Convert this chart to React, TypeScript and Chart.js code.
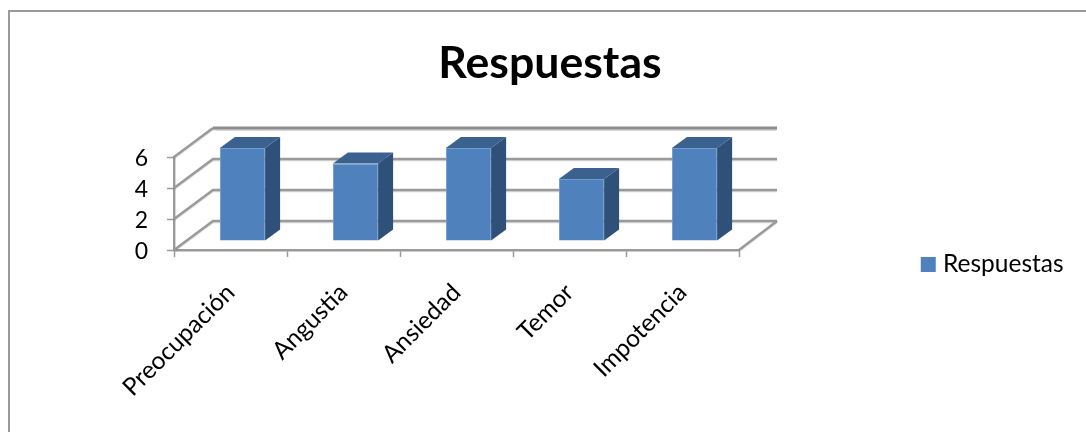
import React, { useEffect, useRef } from "react";
import { Chart, registerables } from "chart.js";

Chart.register(...registerables);

const categories = ["Preocupación", "Angustia", "Ansiedad", "Temor", "Impotencia"];
const seriesName = "Respuestas";
const values = [6, 5, 6, 4, 6];
const yTicks = [0, 2, 4, 6];

const FONT = "Lato, 'Noto Sans', sans-serif";
const GREY = "#9a9a9a";
const DEPTH_X = 39;
const DEPTH_Y = -29;
const BAR_SHIFT_X = 12;
const BAR_SHIFT_Y = -9;
const SIDE_X = 15;
const SIDE_Y = -11;

const threeD = {
  id: "threeD",
  afterLayout(chart: any) {
    const legend = chart.legend;
    legend.left = 915.75;
    legend.right = 1086;
    legend.top = 252;
    legend.bottom = 277;
    const title = chart.titleBlock;
    title.left = 0;
    title.right = 1100;
  },
  beforeDatasetsDraw(chart: any) {
    const { ctx, scales } = chart;
    const x = scales.x;
    const y = scales.y;
    const left = x.left;
    const right = x.right;
    const floor = y.getPixelForValue(0);
    const top = y.getPixelForValue(6);
    ctx.save();
    ctx.shadowColor = "rgba(0,0,0,0.15)";
    ctx.shadowBlur = 1;
    ctx.shadowOffsetY = 1;
    yTicks.forEach((tick) => {
      const py = y.getPixelForValue(tick);
      ctx.lineWidth = 2.4;
      ctx.strokeStyle = GREY;
      ctx.beginPath();
      ctx.moveTo(left, py);
      ctx.lineTo(left + DEPTH_X, py + DEPTH_Y);
      if (py !== top) ctx.lineTo(right + DEPTH_X - 1, py + DEPTH_Y);
      ctx.stroke();
      if (py === top) {
        ctx.lineWidth = 3;
        ctx.strokeStyle = "#8e8e8e";
        ctx.beginPath();
        ctx.moveTo(left + DEPTH_X, py + DEPTH_Y);
        ctx.lineTo(right + DEPTH_X - 1, py + DEPTH_Y);
        ctx.stroke();
      }
    });
    ctx.lineWidth = 2.4;
    ctx.strokeStyle = GREY;
    ctx.beginPath();
    ctx.moveTo(right, floor);
    ctx.lineTo(right + DEPTH_X - 1, floor + DEPTH_Y);
    ctx.stroke();
    ctx.restore();
  },
  beforeDatasetDraw(chart: any) {
    const { ctx } = chart;
    ctx.save();
    ctx.translate(BAR_SHIFT_X, BAR_SHIFT_Y);
    chart.getDatasetMeta(0).data.forEach((bar: any) => {
      const l = bar.x - bar.width / 2;
      const r = bar.x + bar.width / 2;
      ctx.fillStyle = "#2F5078";
      ctx.beginPath();
      ctx.moveTo(r, bar.y);
      ctx.lineTo(r + SIDE_X, bar.y + SIDE_Y);
      ctx.lineTo(r + SIDE_X, bar.base + SIDE_Y);
      ctx.lineTo(r, bar.base);
      ctx.closePath();
      ctx.fill();
      ctx.fillStyle = "#3B618F";
      ctx.beginPath();
      ctx.moveTo(l, bar.y);
      ctx.lineTo(l + SIDE_X, bar.y + SIDE_Y);
      ctx.lineTo(r + SIDE_X, bar.y + SIDE_Y);
      ctx.lineTo(r, bar.y);
      ctx.closePath();
      ctx.fill();
    });
  },
  afterDatasetDraw(chart: any) {
    chart.ctx.restore();
  },
};

export default function App() {
  const ref = useRef<HTMLCanvasElement>(null);
  useEffect(() => {
    const chart = new Chart(ref.current!, {
      type: "bar",
      data: {
        labels: categories,
        datasets: [
          {
            label: seriesName,
            data: values,
            backgroundColor: "#4F81BD",
            borderColor: "#6F9BD0",
            borderWidth: 1,
            categoryPercentage: 1,
            barPercentage: 0.4,
          },
        ],
      },
      options: {
        animation: false,
        responsive: false,
        layout: { padding: { left: 0, top: 0, right: 347, bottom: 0 } },
        plugins: {
          title: {
            display: true,
            text: seriesName,
            color: "#000",
            font: { family: FONT, size: 44.6, weight: "bold", lineHeight: 1.2 },
            padding: { top: 37, bottom: 66.5 },
          },
          legend: {
            display: true,
            position: "chartArea",
            labels: {
              color: "#000",
              font: { family: FONT, size: 24.5 },
              usePointStyle: true,
              pointStyle: "rect",
              boxWidth: 5,
              boxHeight: 15,
              padding: 10,
              generateLabels: (c: any) =>
                Chart.defaults.plugins.legend.labels
                  .generateLabels(c)
                  .map((item: any) => ({ ...item, lineWidth: 0 })),
            },
          },
          tooltip: { enabled: false },
        },
        scales: {
          x: {
            offset: true,
            afterFit: (s: any) => {
              s.height = 182;
            },
            border: { color: GREY, width: 2.4 },
            grid: {
              offset: true,
              drawOnChartArea: false,
              drawTicks: true,
              tickLength: 7,
              tickColor: GREY,
              tickWidth: 1.5,
            },
            ticks: {
              color: "#000",
              font: { family: FONT, size: 24.5 },
              maxRotation: 45,
              minRotation: 45,
              padding: 21,
              autoSkip: false,
            },
          },
          y: {
            min: 0,
            max: 6,
            afterFit: (s: any) => {
              s.width = 174;
            },
            border: { color: GREY, width: 2.4 },
            grid: {
              drawOnChartArea: false,
              tickLength: 7,
              tickColor: GREY,
              tickWidth: 1.5,
            },
            afterBuildTicks: (s: any) => {
              s.ticks = yTicks.map((value) => ({ value }));
            },
            ticks: {
              color: "#000",
              font: { family: FONT, size: 23 },
              padding: 19,
              labelOffset: 2,
            },
          },
        },
      },
      plugins: [threeD],
    } as any);
    return () => chart.destroy();
  }, []);
  return (
    <div style={{ position: "fixed", left: 0, top: 0, width: 1086, height: 432, background: "#fff", overflow: "hidden" }}>
      <canvas ref={ref} width={1086} height={432} style={{ position: "absolute", left: 0, top: 0, display: "block" }} />
      <div
        style={{
          position: "absolute",
          left: 8,
          top: 10,
          width: 1100,
          height: 440,
          borderLeft: "2px solid #9a9a9a",
          borderTop: "2px solid #9a9a9a",
        }}
      />
    </div>
  );
}
